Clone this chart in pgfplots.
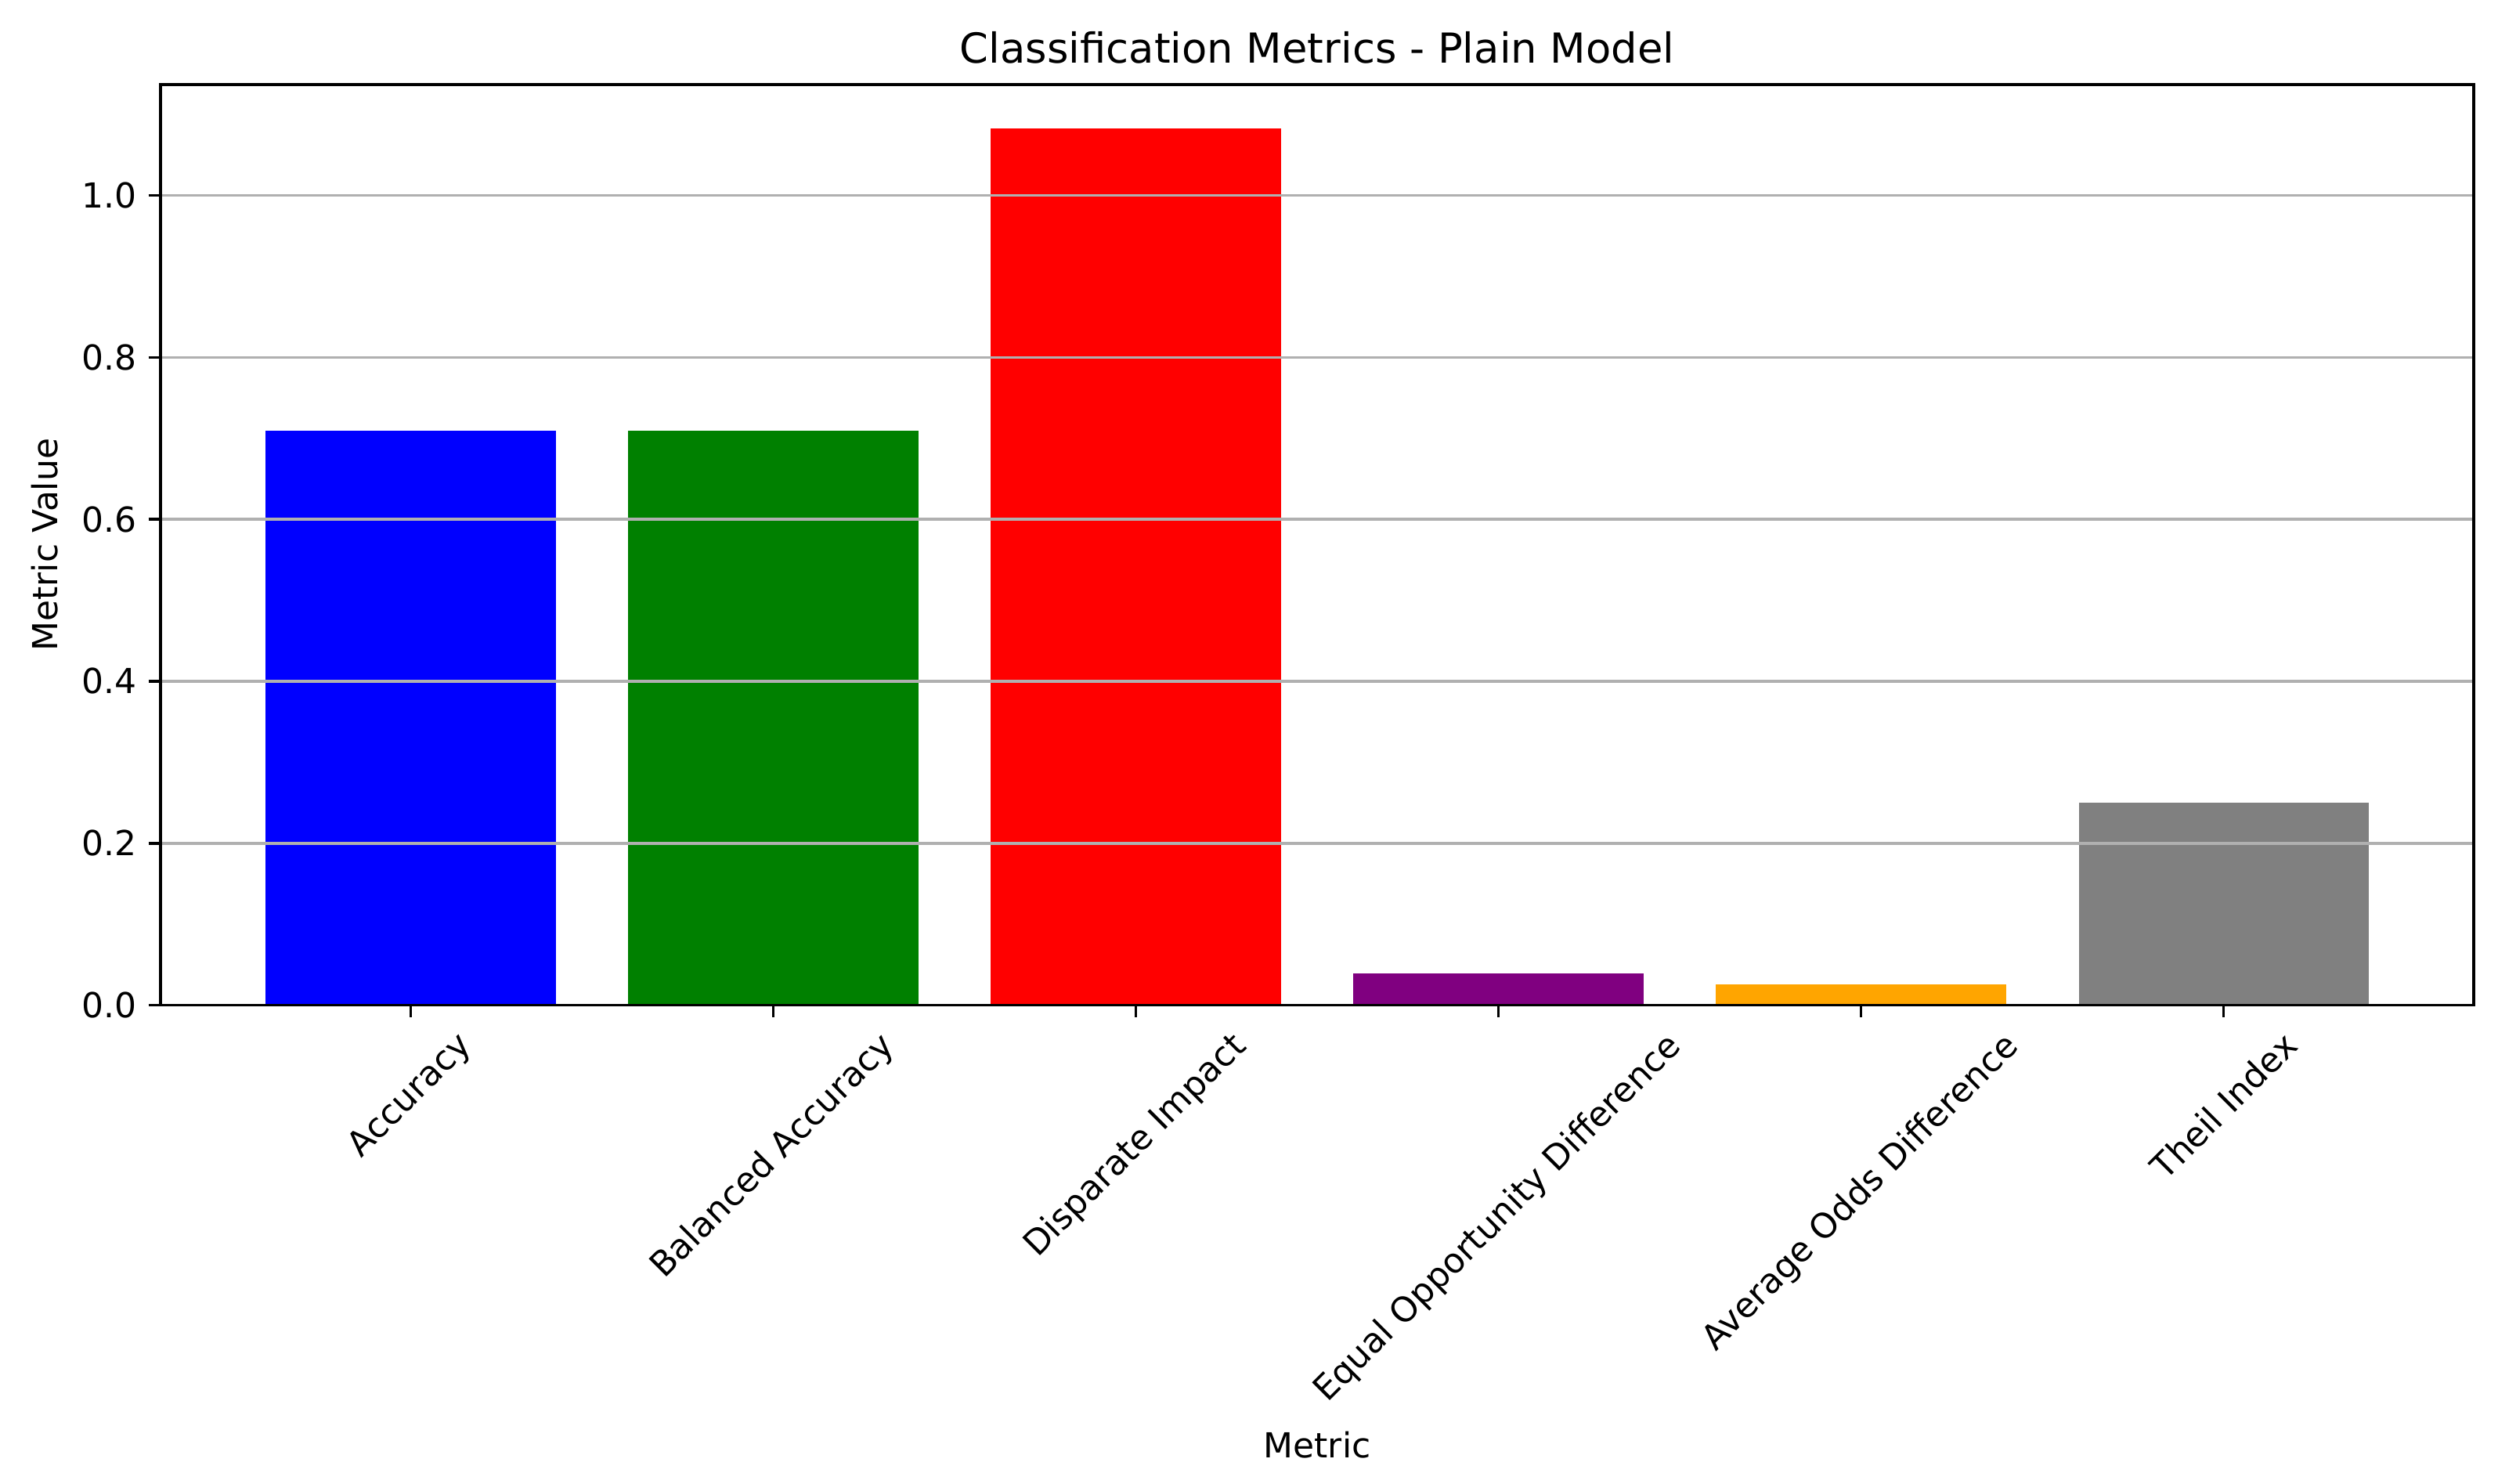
\documentclass[border=0pt]{standalone}
\usepackage{fontspec}
\setmainfont{DejaVu Sans}
\usepackage{graphicx}
\usepackage{pgfplots}
\pgfplotsset{compat=1.18}
\definecolor{mplgreen}{RGB}{0,128,0}
\definecolor{mplpurple}{RGB}{128,0,128}
\definecolor{mplorange}{RGB}{255,165,0}
\definecolor{mplgray}{RGB}{128,128,128}
\definecolor{gridgray}{RGB}{176,176,176}
\begin{document}
\begin{tikzpicture}
\begin{axis}[
  name=ax,
  scale only axis,
  width=671.6pt, height=267.3pt,
  ybar, bar width=0.8, bar shift=0pt,
  xmin=-0.69, xmax=5.69, ymin=0, ymax=1.137,
  xtick={0,1,2,3,4,5},
  xticklabels={\rotatebox{45}{Accuracy},\rotatebox{45}{Balanced Accuracy},\rotatebox{45}{Disparate Impact},\rotatebox{45}{Equal Opportunity Difference},\rotatebox{45}{Average Odds Difference},\rotatebox{45}{Theil Index}},
  xticklabel style={anchor=north, rotate=0},
  ytick={0,0.2,0.4,0.6,0.8,1.0},
  yticklabel style={/pgf/number format/fixed, /pgf/number format/fixed zerofill, /pgf/number format/precision=1},
  /pgf/number format/assume math mode=true,
  ymajorgrids,
  grid style={color=gridgray, line width=0.8pt},
  axis on top,
  axis line style={line width=0.8pt, black},
  tick style={line width=0.8pt, black},
  major tick length=3.5pt,
  tick align=outside,
  xtick pos=bottom, ytick pos=left,
  ticklabel style={font=\fontsize{10}{12}\selectfont},
  label style={font=\fontsize{10}{12}\selectfont},
  title style={font=\fontsize{12}{14}\selectfont, yshift=-3.5pt},
  title={Classification Metrics - Plain Model},
  xlabel={Metric},
  ylabel={Metric Value},
]
\addplot[fill=blue, draw=none] coordinates {(0,0.709)};
\addplot[fill=mplgreen, draw=none] coordinates {(1,0.709)};
\addplot[fill=red, draw=none] coordinates {(2,1.083)};
\addplot[fill=mplpurple, draw=none] coordinates {(3,0.039)};
\addplot[fill=mplorange, draw=none] coordinates {(4,0.026)};
\addplot[fill=mplgray, draw=none] coordinates {(5,0.250)};
\end{axis}
\path ([xshift=-46.6pt,yshift=-139pt]ax.south west) rectangle ([xshift=7pt,yshift=24.5pt]ax.north east);
\end{tikzpicture}
\end{document}
